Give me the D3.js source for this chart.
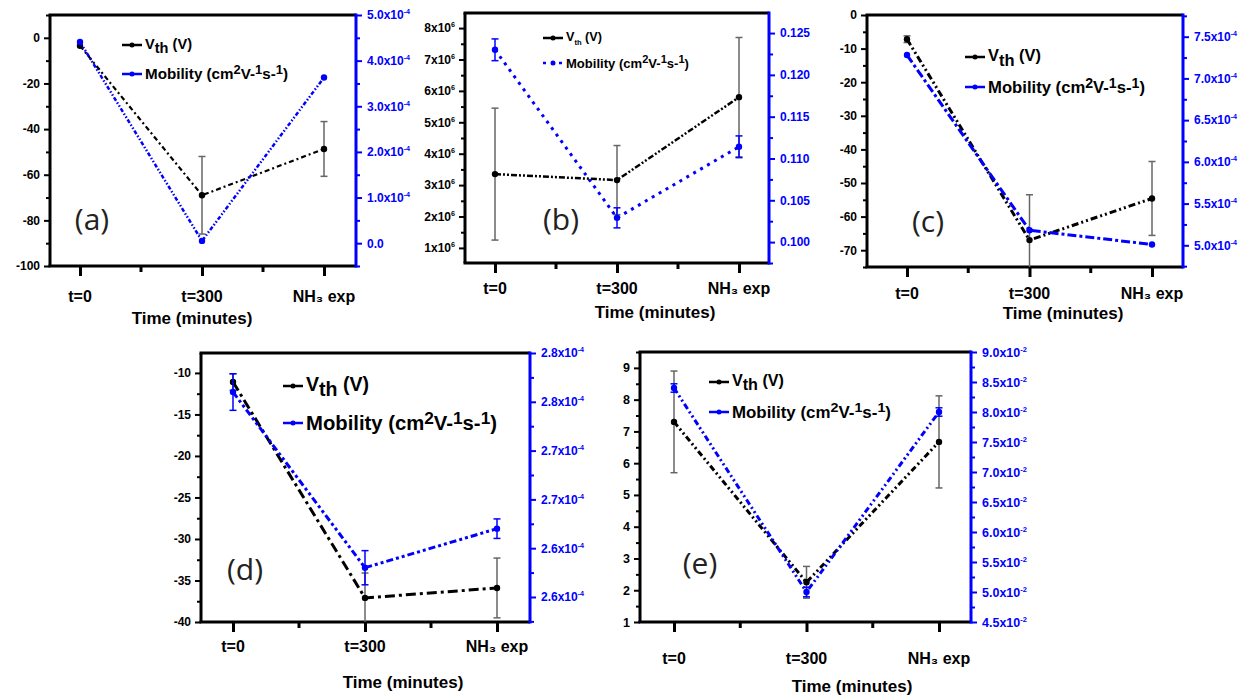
<!doctype html>
<html>
  <head>
    <meta charset="utf-8">
    <style>
      body { margin: 0; background: white; }
      svg { display: block; }
    </style>
    <script src="https://d3js.org/d3.v7.min.js"></script>
  </head>
  <body>
    <svg id="chart" width="1253" height="698"></svg>
    <script>
      // categories on the x axis of every panel
      const categories = ["t=0", "t=300", "NH3 exp"];
      const catLabels = ["t=0", "t=300", "NH\u2083 exp"];

      // (a) Vth in V, mobility in units of 1e-4
      const vthA = [-3.5, -69, -48.7];
      const vthErrA = [0, 17, 12];
      const mobA = [4.41, 0.05, 3.63];
      const mobErrA = [0, 0, 0];
      const leftTicksA = [0, -20, -40, -60, -80, -100];
      const rightTicksA = [0, 1, 2, 3, 4, 5];

      // (b) Vth in units of 1e6, mobility plain
      const vthB = [3.35, 3.16, 5.8];
      const vthErrB = [2.1, 1.1, 1.9];
      const mobB = [0.1230, 0.1029, 0.1114];
      const mobErrB = [0.0013, 0.0012, 0.0013];
      const leftTicksB = [1, 2, 3, 4, 5, 6, 7, 8];
      const rightTicksB = [0.100, 0.105, 0.110, 0.115, 0.120, 0.125];

      // (c) mobility in units of 1e-4
      const vthC = [-7.2, -67, -54.6];
      const vthErrC = [1, 13.5, 11];
      const mobC = [7.28, 5.18, 5.01];
      const mobErrC = [0, 0, 0];
      const leftTicksC = [0, -10, -20, -30, -40, -50, -60, -70];
      const rightTicksC = [5.0, 5.5, 6.0, 6.5, 7.0, 7.5];

      // (d) mobility in units of 1e-4
      const vthD = [-11.1, -37.1, -35.9];
      const vthErrD = [1, 3, 3.6];
      const mobD = [2.768, 2.624, 2.656];
      const mobErrD = [0.015, 0.014, 0.008];
      const leftTicksD = [-10, -15, -20, -25, -30, -35, -40];
      const rightTicksD = [2.60, 2.64, 2.68, 2.72, 2.76, 2.80];

      // (e) mobility in units of 1e-2
      const vthE = [7.3, 2.25, 6.67];
      const vthErrE = [1.6, 0.5, 1.45];
      const mobE = [8.4, 5.0, 8.0];
      const mobErrE = [0.07, 0.08, 0.07];
      const leftTicksE = [1, 2, 3, 4, 5, 6, 7, 8, 9];
      const rightTicksE = [4.5, 5.0, 5.5, 6.0, 6.5, 7.0, 7.5, 8.0, 8.5, 9.0];

      const font = "'Liberation Sans', Arial, sans-serif";
      const blue = "#0000ff";
      const svg = d3.select("#chart");
      svg.append("rect").attr("width", 1253).attr("height", 698).attr("fill", "white");

      const panels = [
        { id: "a", vth: vthA, vthErr: vthErrA, mob: mobA, mobErr: mobErrA,
          lt: leftTicksA, rt: rightTicksA, lFmt: "d", rFmt: ".1f", lExp: null, rExp: "-4", zeroPlain: true,
          left: 50, top: 15, right: 356, bottom: 266, xr: [80, 324], yL: [-100, 10], yR: [-0.5, 5.0],
          tickFs: 12, legX: 122, legY1: 45, legY2: 74, legFs: 15, vthLen: 47, mobLen: 143,
          labX: 92, labY: 218, xlabY: 296, timeX: 192, timeY: 318,
          kDash: "5,3,2,3", kW: 2.2, bDash: "4,2,1.5,2,1.5,2", bW: 2.5 },
        { id: "b", vth: vthB, vthErr: vthErrB, mob: mobB, mobErr: mobErrB,
          lt: leftTicksB, rt: rightTicksB, lFmt: "d", rFmt: ".3f", lExp: "6", rExp: null, zeroPlain: false,
          left: 465, top: 13, right: 769, bottom: 263, xr: [495, 739], yL: [0.52, 8.48], yR: [0.0975, 0.1274],
          tickFs: 12, legX: 543, legY1: 38, legY2: 63, legFs: 13, vthLen: 36, mobLen: 123,
          labX: 561, labY: 218, xlabY: 288, timeX: 655, timeY: 312,
          kDash: "6,2,2,2,2,2", kW: 2.5, bDash: "3,5", bW: 3, bLegDotted: true },
        { id: "c", vth: vthC, vthErr: vthErrC, mob: mobC, mobErr: mobErrC,
          lt: leftTicksC, rt: rightTicksC, lFmt: "d", rFmt: ".1f", lExp: null, rExp: "-4", zeroPlain: false,
          left: 867, top: 15, right: 1183, bottom: 267, xr: [907, 1152], yL: [-75, 0], yR: [4.74, 7.76],
          tickFs: 12, legX: 965, legY1: 57, legY2: 87, legFs: 17, vthLen: 53, mobLen: 157,
          labX: 928, labY: 220, xlabY: 293, timeX: 1063, timeY: 313,
          kDash: "7,3,2,3,2,3", kW: 3, bDash: "9,3,3,3", bW: 3 },
        { id: "d", vth: vthD, vthErr: vthErrD, mob: mobD, mobErr: mobErrD,
          lt: leftTicksD, rt: rightTicksD, lFmt: "d", rFmt: ".1f", lExp: null, rExp: "-4", zeroPlain: false,
          left: 201, top: 353, right: 530, bottom: 622, xr: [233, 497], yL: [-40, -7.6], yR: [2.5795, 2.80],
          tickFs: 12, legX: 283, legY1: 386, legY2: 423, legFs: 20, vthLen: 63, mobLen: 191,
          labX: 245, labY: 568, xlabY: 646, timeX: 403, timeY: 682,
          kDash: "10,4,3,4", kW: 3, bDash: "7,3,3,3,3,3", bW: 3 },
        { id: "e", vth: vthE, vthErr: vthErrE, mob: mobE, mobErr: mobErrE,
          lt: leftTicksE, rt: rightTicksE, lFmt: "d", rFmt: ".1f", lExp: null, rExp: "-2", zeroPlain: false,
          left: 640, top: 352, right: 971, bottom: 622, xr: [674, 939], yL: [1, 9.5], yR: [4.5, 9.0],
          tickFs: 12.5, legX: 709, legY1: 382, legY2: 412, legFs: 16, vthLen: 52, mobLen: 159,
          labX: 700, labY: 562, xlabY: 658, timeX: 852, timeY: 686,
          kDash: "6,3,2,3,2,3", kW: 3, bDash: "6,3,2,3,2,3", bW: 3 }
      ];

      // minor ticks sit half way between the major ones
      function minors(ticks, domain) {
        const s = ticks.slice().sort((a, b) => a - b);
        const step = s[1] - s[0];
        const lo = Math.min(...domain), hi = Math.max(...domain);
        const out = [];
        for (let v = s[0] - step / 2; v <= hi + 1e-9; v += step) {
          if (v >= lo - 1e-9) out.push(v);
        }
        return out;
      }

      function styleTicks(sel, fmt, exp, zeroPlain, fs, color) {
        sel.select(".domain").remove();
        sel.selectAll(".tick line").attr("stroke", color).attr("stroke-width", 2);
        const f = d3.format(fmt);
        sel.selectAll(".tick text").each(function(d) {
          const t = d3.select(this)
            .attr("font-family", font).attr("font-weight", "bold")
            .attr("font-size", fs).attr("fill", color);
          t.text(null);
          const s = f(d).replace("\u2212", "-");
          if (exp && !(zeroPlain && d === 0)) {
            t.append("tspan").text(s + "x10");
            t.append("tspan").attr("dy", -5).attr("font-size", fs * 0.6).text(exp);
          } else {
            t.text(s);
          }
        });
      }

      function drawPanel(p) {
        const g = svg.append("g");
        const x = d3.scalePoint().domain(categories).range(p.xr);
        const yL = d3.scaleLinear().domain(p.yL).range([p.bottom, p.top]);
        const yR = d3.scaleLinear().domain(p.yR).range([p.bottom, p.top]);

        g.append("clipPath").attr("id", "clip-" + p.id)
          .append("rect").attr("x", p.left).attr("y", p.top)
          .attr("width", p.right - p.left).attr("height", p.bottom - p.top);

        // left axis
        const axL = g.append("g").attr("transform", `translate(${p.left},0)`)
          .call(d3.axisLeft(yL).tickValues(p.lt).tickSize(6).tickSizeOuter(0).tickPadding(4));
        styleTicks(axL, p.lFmt, p.lExp, false, p.tickFs, "#000");
        g.append("g").attr("transform", `translate(${p.left},0)`)
          .call(d3.axisLeft(yL).tickValues(minors(p.lt, p.yL)).tickSize(4).tickFormat(""))
          .call(s => { s.select(".domain").remove(); s.selectAll("line").attr("stroke", "#000").attr("stroke-width", 2); });

        // right axis
        const axR = g.append("g").attr("transform", `translate(${p.right},0)`)
          .call(d3.axisRight(yR).tickValues(p.rt).tickSize(6).tickSizeOuter(0).tickPadding(5));
        styleTicks(axR, p.rFmt, p.rExp, p.zeroPlain, p.tickFs, blue);
        g.append("g").attr("transform", `translate(${p.right},0)`)
          .call(d3.axisRight(yR).tickValues(minors(p.rt, p.yR)).tickSize(4).tickFormat(""))
          .call(s => { s.select(".domain").remove(); s.selectAll("line").attr("stroke", blue).attr("stroke-width", 2); });

        // bottom axis
        const axB = g.append("g").attr("transform", `translate(0,${p.bottom})`)
          .call(d3.axisBottom(x).tickSize(10).tickSizeOuter(0).tickFormat(""));
        axB.select(".domain").remove();
        axB.selectAll("line").attr("stroke", "#000").attr("stroke-width", 3);
        const mids = [0, 1].map(i => (x(categories[i]) + x(categories[i + 1])) / 2);
        g.selectAll(null).data(mids).enter().append("line")
          .attr("x1", d => d).attr("x2", d => d)
          .attr("y1", p.bottom).attr("y2", p.bottom + 6)
          .attr("stroke", "#000").attr("stroke-width", 3);

        g.selectAll(null).data(categories).enter().append("text")
          .attr("x", d => x(d)).attr("y", p.xlabY)
          .attr("text-anchor", "middle").attr("dominant-baseline", "central")
          .attr("font-family", font).attr("font-weight", "bold").attr("font-size", 16)
          .text((d, i) => catLabels[i]);
        g.append("text").attr("x", p.timeX).attr("y", p.timeY)
          .attr("text-anchor", "middle").attr("dominant-baseline", "central")
          .attr("font-family", font).attr("font-weight", "bold").attr("font-size", 17)
          .text("Time (minutes)");

        // frame
        g.append("line").attr("x1", p.left - 1.5).attr("x2", p.right).attr("y1", p.top).attr("y2", p.top)
          .attr("stroke", "#000").attr("stroke-width", 3);
        g.append("line").attr("x1", p.left - 1.5).attr("x2", p.right).attr("y1", p.bottom).attr("y2", p.bottom)
          .attr("stroke", "#000").attr("stroke-width", 3);
        g.append("line").attr("x1", p.left).attr("x2", p.left).attr("y1", p.top).attr("y2", p.bottom)
          .attr("stroke", "#000").attr("stroke-width", 3);
        g.append("line").attr("x1", p.right).attr("x2", p.right).attr("y1", p.top - 1.5).attr("y2", p.bottom + 1.5)
          .attr("stroke", blue).attr("stroke-width", 3);

        const plot = g.append("g").attr("clip-path", `url(#clip-${p.id})`);

        function series(vals, errs, y, color, errColor, dash, w) {
          const pts = vals.map((v, i) => ({ c: categories[i], v: v, e: errs[i] }));
          const eb = pts.filter(d => d.e > 0);
          plot.selectAll(null).data(eb).enter().append("line")
            .attr("x1", d => x(d.c)).attr("x2", d => x(d.c))
            .attr("y1", d => y(d.v - d.e)).attr("y2", d => y(d.v + d.e))
            .attr("stroke", errColor).attr("stroke-width", 1.5);
          [-1, 1].forEach(sgn => {
            plot.selectAll(null).data(eb).enter().append("line")
              .attr("x1", d => x(d.c) - 3.5).attr("x2", d => x(d.c) + 3.5)
              .attr("y1", d => y(d.v + sgn * d.e)).attr("y2", d => y(d.v + sgn * d.e))
              .attr("stroke", errColor).attr("stroke-width", 1.5);
          });
          plot.append("path").datum(pts)
            .attr("d", d3.line().x(d => x(d.c)).y(d => y(d.v)))
            .attr("fill", "none").attr("stroke", color).attr("stroke-width", w)
            .attr("stroke-dasharray", dash);
          plot.selectAll(null).data(pts).enter().append("circle")
            .attr("cx", d => x(d.c)).attr("cy", d => y(d.v)).attr("r", 3.2)
            .attr("fill", color);
        }
        series(p.vth, p.vthErr, yL, "#000", "#666", p.kDash, p.kW);
        series(p.mob, p.mobErr, yR, blue, blue, p.bDash, p.bW);

        // legend
        const lg = g.append("g");
        lg.append("line").attr("x1", p.legX).attr("x2", p.legX + 20).attr("y1", p.legY1).attr("y2", p.legY1)
          .attr("stroke", "#000").attr("stroke-width", 2.5);
        lg.append("circle").attr("cx", p.legX + 10).attr("cy", p.legY1).attr("r", 2.5).attr("fill", "#000");
        lg.append("line").attr("x1", p.legX).attr("x2", p.legX + 20).attr("y1", p.legY2).attr("y2", p.legY2)
          .attr("stroke", blue).attr("stroke-width", 2.5)
          .attr("stroke-dasharray", p.bLegDotted ? "3,5" : null);
        lg.append("circle").attr("cx", p.legX + 10).attr("cy", p.legY2).attr("r", 2.5).attr("fill", blue);

        const tx = p.legX + 23;
        const t1 = lg.append("text").attr("x", tx).attr("y", p.legY1 + p.legFs * 0.25)
          .attr("font-family", font).attr("font-weight", "bold").attr("font-size", p.legFs)
          .attr("textLength", p.vthLen).attr("lengthAdjust", "spacingAndGlyphs");
        t1.append("tspan").text("V");
        t1.append("tspan").attr("dy", p.legFs * 0.25).attr("font-size", p.id === "b" ? p.legFs * 0.6 : p.legFs).text("th");
        t1.append("tspan").attr("dy", -p.legFs * 0.25).text(" (V)");

        const t2 = lg.append("text").attr("x", tx).attr("y", p.legY2 + p.legFs * 0.35)
          .attr("font-family", font).attr("font-weight", "bold").attr("font-size", p.legFs)
          .attr("textLength", p.mobLen).attr("lengthAdjust", "spacingAndGlyphs");
        const sup = p.legFs * 0.32;
        t2.append("tspan").text("Mobility (cm");
        t2.append("tspan").attr("dy", -sup).attr("font-size", p.legFs * 0.85).text("2");
        t2.append("tspan").attr("dy", sup).text("V-");
        t2.append("tspan").attr("dy", -sup).attr("font-size", p.legFs * 0.85).text("1");
        t2.append("tspan").attr("dy", sup).text("s-");
        t2.append("tspan").attr("dy", -sup).attr("font-size", p.legFs * 0.85).text("1");
        t2.append("tspan").attr("dy", sup).text(")");

        // panel letter
        g.append("text").attr("x", p.labX).attr("y", p.labY)
          .attr("text-anchor", "middle").attr("dominant-baseline", "central")
          .attr("font-family", "'Open Sans', sans-serif").attr("font-size", 30).attr("fill", "#222")
          .text("(" + p.id + ")");
      }

      panels.forEach(drawPanel);
    </script>
  </body>
</html>
